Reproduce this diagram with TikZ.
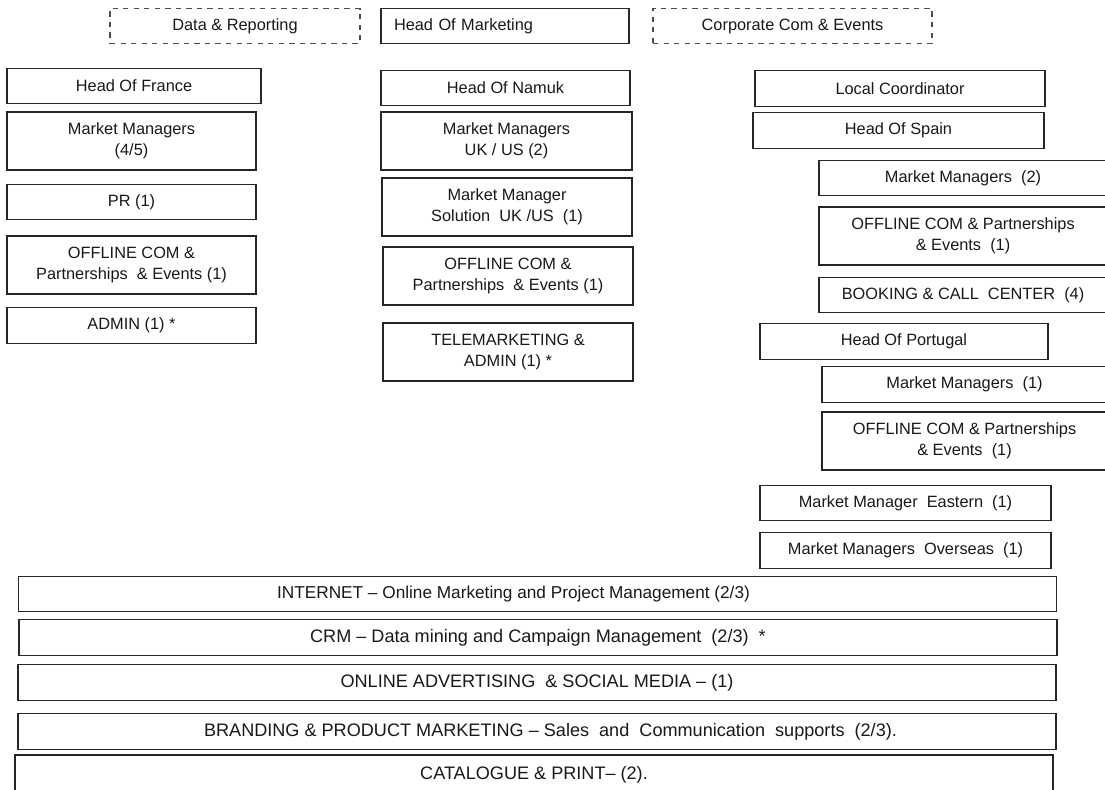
\documentclass[tikz,border=0pt]{standalone}
\usepackage{fontspec}
\setmainfont{Liberation Sans}
\usetikzlibrary{positioning}

\tikzset{
  orgbox/.style={draw=black!85, line width=0.9pt, fill=white, align=center,
    inner sep=1pt, font=\fontsize{9.3}{12}\selectfont, text=black!90},
  dashbox/.style={orgbox, dashed, draw=black!70, line width=0.7pt},
  widebox/.style={orgbox, minimum width=20.77cm, font=\fontsize{10.3}{12}\selectfont}
}

\begin{document}
\begin{tikzpicture}[x=0.02cm, y=-0.02cm]

\useasboundingbox (0,0) rectangle (1105,789);
\clip (0,0) rectangle (1105,789);

% top row
\node[dashbox, minimum width=5cm, minimum height=0.7cm] (datarep) at (235,26) {Data \& Reporting};
\node[orgbox, minimum height=0.7cm, text width=4.44cm, inner xsep=0.26cm, align=left] (headmkt) at (505,26) {Head Of Marketing};
\node[dashbox, minimum width=5.58cm, minimum height=0.7cm] (corpcom) at (792.5,26) {Corporate Com \& Events};

% France
\node[orgbox, minimum width=5.08cm, minimum height=0.7cm] (headfr) at (134,86) {Head Of France};
\node[orgbox, minimum width=4.98cm, minimum height=1.16cm] (mmfr) at (131.5,141) {Market Managers\\(4/5)};
\node[orgbox, minimum width=4.98cm, minimum height=0.7cm] (prfr) at (131.5,202) {PR (1)};
\node[orgbox, minimum width=4.98cm, minimum height=1.16cm] (offfr) at (131.5,265) {OFFLINE COM \&\\Partnerships\ \ \& Events (1)};
\node[orgbox, minimum width=4.98cm, minimum height=0.72cm] (admfr) at (131.5,325.5) {ADMIN (1) *};

% Namuk
\node[orgbox, minimum width=4.98cm, minimum height=0.7cm] (headnk) at (505.5,88) {Head Of Namuk};
\node[orgbox, minimum width=5.02cm, minimum height=1.16cm] (mmnk) at (506.5,141) {Market Managers\\UK / US (2)};
\node[orgbox, minimum width=5cm, minimum height=1.16cm] (solnk) at (507,207) {Market Manager\\Solution\ \ UK /US\ \ (1)};
\node[orgbox, minimum width=5cm, minimum height=1.16cm] (offnk) at (508,276) {OFFLINE COM \&\\Partnerships\ \ \& Events (1)};
\node[orgbox, minimum width=5cm, minimum height=1.16cm] (telnk) at (508,352) {TELEMARKETING \&\\ADMIN (1) *};

% Spain and Portugal
\node[orgbox, minimum width=5.8cm, minimum height=0.72cm] (locco) at (900,88.5) {Local Coordinator};
\node[orgbox, minimum width=5.82cm, minimum height=0.72cm] (heades) at (898.5,130.5) {Head Of Spain};
\node[orgbox, minimum width=5.76cm, minimum height=0.7cm] (mmes) at (963,178) {Market Managers\ \ (2)};
\node[orgbox, minimum width=5.76cm, minimum height=1.16cm] (offes) at (963,236) {OFFLINE COM \& Partnerships\\\& Events\ \ (1)};
\node[orgbox, minimum width=5.76cm, minimum height=0.7cm] (bookes) at (963,295) {BOOKING \& CALL\ \ CENTER\ \ (4)};
\node[orgbox, minimum width=5.76cm, minimum height=0.72cm] (headpt) at (904,341.5) {Head Of Portugal};
\node[orgbox, minimum width=5.7cm, minimum height=0.72cm] (mmpt) at (964.5,384.5) {Market Managers\ \ (1)};
\node[orgbox, minimum width=5.7cm, minimum height=1.16cm] (offpt) at (964.5,441) {OFFLINE COM \& Partnerships\\\& Events\ \ (1)};
\node[orgbox, minimum width=5.82cm, minimum height=0.7cm] (mmeast) at (905.5,503) {Market Manager\ \ Eastern\ \ (1)};
\node[orgbox, minimum width=5.82cm, minimum height=0.72cm] (mmover) at (905.5,550.5) {Market Managers\ \ Overseas\ \ (1)};

% transversal teams
\node[widebox, minimum height=0.7cm, font=\fontsize{9.8}{12}\selectfont] (inet) at (537.5,594) {INTERNET -- Online Marketing and Project Management (2/3)\hspace*{0.96cm}};
\node[widebox, minimum height=0.72cm] (crm) at (538,637.5) {CRM -- Data mining and Campaign Management\ \ (2/3)\ \ *};
\node[widebox, minimum height=0.72cm] (onad) at (537,682.5) {ONLINE ADVERTISING\ \ \& SOCIAL MEDIA -- (1)};
\node[widebox, minimum height=0.72cm] (brand) at (537,731.5) {\hspace*{0.54cm}BRANDING \& PRODUCT MARKETING -- Sales\ \ and\ \ Communication\ \ supports\ \ (2/3).};
\node[widebox, minimum height=0.8cm] (catal) at (534,775) {CATALOGUE \& PRINT-- (2).};

\end{tikzpicture}
\end{document}
